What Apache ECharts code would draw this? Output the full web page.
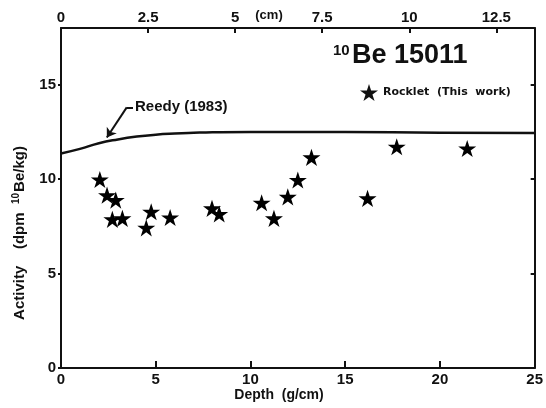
<!DOCTYPE html>
<html><head><meta charset="utf-8">
<script src="https://cdn.jsdelivr.net/npm/echarts@6/dist/echarts.min.js"></script>
<style>html,body{margin:0;padding:0;background:#fff}#c{width:546px;height:408px}</style>
</head><body><div id="c"></div>
<script>
// ---- data ----
const rockletDepth    = [2.05, 2.43, 2.89, 2.71, 3.24, 4.50, 4.76, 5.76, 7.97, 8.35, 10.59, 11.24, 11.97, 12.50, 13.22, 16.18, 17.72, 21.44];
const rockletActivity = [9.98, 9.15, 8.89, 7.87, 7.92, 7.42, 8.27, 7.97, 8.45, 8.15, 8.75, 7.92, 9.06, 9.95, 11.15, 8.98, 11.71, 11.62];
const reedyDepth      = [0, 1, 2, 3, 4, 5, 6, 7, 8, 10, 12.5, 15, 20, 25];
const reedyActivity   = [11.36, 11.6, 11.9, 12.1, 12.25, 12.35, 12.41, 12.45, 12.48, 12.5, 12.5, 12.49, 12.46, 12.44];
const depthTicks = {min: 0, max: 25, interval: 5};        // g/cm, bottom axis
const cmTicks    = {min: 0, max: 13.6, interval: 2.5};    // cm, top axis
const activityTicks = {min: 0, max: 18, interval: 5};
const seriesNames = ['Rocklet  (This  work)', 'Reedy (1983)'];
// annotation leader (data coords)
const reedyLabelAt = [3.8, 13.8];
const reedyBendAt  = [3.47, 13.8];
const reedyArrowTo = [2.42, 12.2];

const INK = '#111';
const FONT = '"Liberation Sans", Arial, sans-serif';
const STAR = 'path://M50,0 L61.2,34.5 L97.6,34.5 L68.2,55.9 L79.4,90.5 L50,69.1 L20.6,90.5 L31.8,55.9 L2.4,34.5 L38.8,34.5 Z';

const chart = echarts.init(document.getElementById('c'), null, {renderer: 'canvas'});
const axisLine = {show: true, onZero: false, lineStyle: {color: INK, width: 2}};
const lbl = {color: INK, fontSize: 15, fontWeight: 'bold', fontFamily: FONT};

chart.setOption({
  backgroundColor: '#fff',
  animation: false,
  grid: {left: 61, right: 9, top: 28, bottom: 40, containLabel: false},
  xAxis: [
    {type: 'value', position: 'bottom', min: depthTicks.min, max: depthTicks.max, interval: depthTicks.interval,
     axisLine, axisTick: {inside: true, length: 7, lineStyle: {color: INK, width: 2}},
     axisLabel: Object.assign({margin: 4}, lbl), splitLine: {show: false}},
    {type: 'value', position: 'top', min: cmTicks.min, max: cmTicks.max, interval: cmTicks.interval,
     axisLine, axisTick: {inside: true, length: 5, lineStyle: {color: INK, width: 2}},
     axisLabel: Object.assign({margin: 3, showMaxLabel: false, formatter: v => (v % 1 ? v.toFixed(1) : String(v))}, lbl),
     splitLine: {show: false}}
  ],
  yAxis: [
    {type: 'value', position: 'left', min: activityTicks.min, max: activityTicks.max, interval: activityTicks.interval,
     axisLine, axisTick: {inside: false, length: 3, lineStyle: {color: INK, width: 2}},
     axisLabel: Object.assign({margin: 5, showMaxLabel: false}, lbl), splitLine: {show: false}},
    {type: 'value', position: 'right', min: activityTicks.min, max: activityTicks.max, interval: activityTicks.interval,
     axisLine, axisTick: {inside: true, length: 4, lineStyle: {color: INK, width: 2}},
     axisLabel: {show: false}, splitLine: {show: false}}
  ],
  legend: {
    show: true, data: [{name: seriesNames[0], icon: STAR, itemStyle: {color: INK, opacity: 1}}],
    left: 355, top: 79, itemWidth: 18, itemHeight: 18, itemGap: 5,
    textStyle: {color: INK, fontSize: 11, fontWeight: 'bold', fontFamily: '"DejaVu Sans", sans-serif'}
  },
  series: [
    {name: seriesNames[0], type: 'scatter', symbol: STAR, symbolSize: 18, symbolKeepAspect: true,
     itemStyle: {color: '#000', opacity: 1}, data: rockletDepth.map((d, i) => [d, rockletActivity[i]]), z: 5},
    {name: seriesNames[1], type: 'line', smooth: true, showSymbol: false,
     lineStyle: {color: INK, width: 2.5}, data: reedyDepth.map((d, i) => [d, reedyActivity[i]]),
     markLine: {silent: true, animation: false, symbol: ['none', 'none'], label: {show: false},
       lineStyle: {color: INK, width: 2, type: 'solid'},
       data: [
         [{coord: reedyLabelAt}, {coord: reedyBendAt}],
         [{coord: reedyBendAt, symbol: 'none'}, {coord: reedyArrowTo, symbol: 'arrow', symbolSize: 9}]
       ]},
     markPoint: {silent: true, symbol: 'circle', symbolSize: 0,
       data: [{coord: reedyLabelAt, name: seriesNames[1]}],
       label: {show: true, position: 'right', distance: 2, formatter: '{b}', color: INK, fontSize: 15, fontWeight: 'bold', fontFamily: FONT}}
    }
  ],
  graphic: [
    {type: 'text', left: 333, top: 43, style: {text: '10', fill: INK, font: 'bold 15px "Liberation Sans", Arial, sans-serif'}},
    {type: 'text', left: 352, top: 42, style: {text: 'Be 15011', fill: INK, font: 'bold 27px "Liberation Sans", Arial, sans-serif'}},
    {type: 'text', x: 269, y: 15, style: {text: '(cm)', fill: INK, font: 'bold 13px "Liberation Sans", Arial, sans-serif', align: 'center', verticalAlign: 'middle'}},
    {type: 'text', x: 279, y: 395, style: {text: 'Depth  (g/cm)', fill: INK, font: 'bold 14px "Liberation Sans", Arial, sans-serif', align: 'center', verticalAlign: 'middle'}},
    {type: 'text', x: 20, y: 233, rotation: Math.PI / 2,
     style: {text: '{a|Activity    (dpm  }{s|10}{a|Be/kg)}', align: 'center', verticalAlign: 'middle', fill: INK,
       rich: {a: {fontSize: 15, fontWeight: 'bold', fontFamily: FONT, lineHeight: 18, fill: INK},
              s: {fontSize: 10, fontWeight: 'bold', fontFamily: FONT, verticalAlign: 'top', lineHeight: 18, padding: [0, 1, 0, 0], fill: INK}}}}
  ]
});
</script>
</body></html>
